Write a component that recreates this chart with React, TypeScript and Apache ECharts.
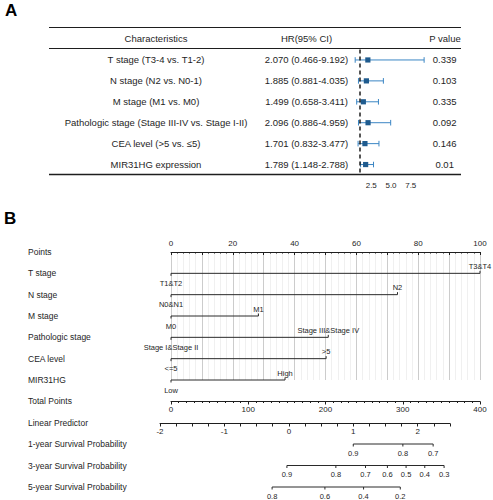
import React, { useEffect, useRef } from "react";
import * as echarts from "echarts";

// ---------- Panel A: forest plot data ----------
const characteristics = [
  "T stage (T3-4 vs. T1-2)",
  "N stage (N2 vs. N0-1)",
  "M stage (M1 vs. M0)",
  "Pathologic stage (Stage III-IV vs. Stage I-II)",
  "CEA level (>5 vs. ≤5)",
  "MIR31HG expression",
];
const hrValues = [2.07, 1.885, 1.499, 2.096, 1.701, 1.789];
const ciLower = [0.466, 0.881, 0.658, 0.886, 0.832, 1.148];
const ciUpper = [9.192, 4.035, 3.411, 4.959, 3.477, 2.788];
const pValues = ["0.339", "0.103", "0.335", "0.092", "0.146", "0.01"];
const forestTicks = [2.5, 5.0, 7.5];

// ---------- Panel B: nomogram data ----------
const rowNames = [
  "Points",
  "T stage",
  "N stage",
  "M stage",
  "Pathologic stage",
  "CEA level",
  "MIR31HG",
  "Total Points",
  "Linear Predictor",
  "1-year Survival Probability",
  "3-year Survival Probability",
  "5-year Survival Probability",
];
const varMaxPoints = [100, 73.3, 28.3, 50.9, 50.2, 36.9];
const varLowLabels = ["T1&T2", "N0&N1", "M0", "Stage I&Stage II", "<=5", "Low"];
const varHighLabels = ["T3&T4", "N2", "M1", "Stage III&Stage IV", ">5", "High"];

// survival scales: tick positions on the linear predictor scale
const oneYearLabels = ["0.9", "0.8", "0.7"];
const oneYearLP = [1.0, 1.77, 2.24];
const threeYearLabels = ["0.9", "0.8", "0.7", "0.6", "0.5", "0.4", "0.3"];
const threeYearLP = [-0.03, 0.73, 1.19, 1.53, 1.82, 2.11, 2.41];
const fiveYearLabels = ["0.8", "0.6", "0.4", "0.2"];
const fiveYearLP = [-0.26, 0.56, 1.16, 1.73];

const survLabels = [oneYearLabels, threeYearLabels, fiveYearLabels];
const survLP = [oneYearLP, threeYearLP, fiveYearLP];

const FONT = "'Liberation Sans', Arial, Helvetica, sans-serif";
const INK = "#1e1e1e";

export default function App() {
  const ref = useRef<HTMLDivElement>(null);

  useEffect(() => {
    if (!ref.current) return;
    const chart = echarts.init(ref.current, undefined, { renderer: "svg" });

    const hrText = hrValues.map(
      (v, i) => `${v.toFixed(3)} (${ciLower[i].toFixed(3)}-${ciUpper[i].toFixed(3)})`
    );

    const hiddenAxisBits = {
      axisLine: { show: false },
      axisTick: { show: false },
      splitLine: { show: false },
    };
    const axisLineOn = { show: true, onZero: false, lineStyle: { color: INK, width: 1 } };

    const option: any = {
      animation: false,
      backgroundColor: "#ffffff",
      textStyle: { fontFamily: FONT },
      grid: [
        { left: 351.5, top: 49.5, width: 79, height: 125.5 },
        { left: 171, top: 252, width: 309, height: 128 },
        { left: 171, top: 399.5, width: 309, height: 2 },
        { left: 160, top: 421.5, width: 289.9, height: 2 },
        { left: 160, top: 444, width: 289.9, height: 43 },
      ],
      xAxis: [
        {
          gridIndex: 0,
          type: "value",
          min: 0,
          max: 10,
          interval: 2.5,
          ...hiddenAxisBits,
          axisLabel: {
            margin: 6,
            fontSize: 8,
            color: INK,
            formatter: (v: number) =>
              forestTicks.indexOf(v) >= 0 ? v.toFixed(1) : "",
          },
        },
        {
          gridIndex: 1,
          type: "value",
          position: "top",
          min: 0,
          max: 100,
          interval: 10,
          axisLine: axisLineOn,
          axisTick: { show: true, inside: true, length: 3, lineStyle: { color: INK } },
          minorTick: { show: true, splitNumber: 5, length: 1.5, lineStyle: { color: INK } },
          splitLine: { show: true, lineStyle: { color: "#cccccc", width: 1 } },
          minorSplitLine: { show: true, lineStyle: { color: "#f0f0f0", width: 1 } },
          axisLabel: {
            margin: 5,
            fontSize: 8,
            color: INK,
            formatter: (v: number) => (v % 20 === 0 ? String(v) : ""),
          },
        },
        {
          gridIndex: 2,
          type: "value",
          position: "bottom",
          min: 0,
          max: 400,
          interval: 100,
          axisLine: axisLineOn,
          axisTick: { show: true, length: 3, lineStyle: { color: INK } },
          minorTick: { show: true, splitNumber: 10, length: 1.5, lineStyle: { color: INK } },
          splitLine: { show: false },
          axisLabel: { margin: 4, fontSize: 8, color: INK },
        },
        {
          gridIndex: 3,
          type: "value",
          position: "bottom",
          min: -2,
          max: 2.5,
          interval: 0.25,
          axisLine: axisLineOn,
          axisTick: { show: true, length: 3, lineStyle: { color: INK } },
          splitLine: { show: false },
          axisLabel: {
            margin: 4,
            fontSize: 8,
            color: INK,
            formatter: (v: number) => (Number.isInteger(v) ? String(v) : ""),
          },
        },
        { gridIndex: 4, type: "value", min: -2, max: 2.5, show: false },
      ],
      yAxis: [
        {
          gridIndex: 0,
          type: "category",
          data: characteristics,
          inverse: true,
          position: "left",
          ...hiddenAxisBits,
          axisLabel: { interval: 0, margin: 195.5, align: "center", fontSize: 9.5, color: INK },
        },
        {
          gridIndex: 0,
          type: "category",
          data: hrText,
          inverse: true,
          position: "left",
          ...hiddenAxisBits,
          axisLabel: { interval: 0, margin: 45, align: "center", fontSize: 9.5, color: INK },
        },
        {
          gridIndex: 0,
          type: "category",
          data: pValues,
          inverse: true,
          position: "right",
          ...hiddenAxisBits,
          axisLabel: { interval: 0, margin: 14.2, align: "center", fontSize: 9.5, color: INK },
        },
        {
          gridIndex: 1,
          type: "value",
          min: 0,
          max: 6,
          interval: 1,
          inverse: true,
          ...hiddenAxisBits,
          axisLabel: {
            margin: 143,
            align: "left",
            fontSize: 8.5,
            color: INK,
            formatter: (v: number) => rowNames[v] ?? "",
          },
        },
        {
          gridIndex: 2,
          type: "category",
          data: [rowNames[7]],
          ...hiddenAxisBits,
          axisLabel: { margin: 143, align: "left", fontSize: 8.5, color: INK },
        },
        {
          gridIndex: 3,
          type: "category",
          data: [rowNames[8]],
          ...hiddenAxisBits,
          axisLabel: { margin: 132, align: "left", fontSize: 8.5, color: INK },
        },
        {
          gridIndex: 4,
          type: "value",
          min: 9,
          max: 11,
          interval: 1,
          inverse: true,
          ...hiddenAxisBits,
          axisLabel: {
            margin: 132,
            align: "left",
            fontSize: 8.5,
            color: INK,
            formatter: (v: number) => rowNames[v] ?? "",
          },
        },
      ],
      series: [
        {
          type: "custom",
          xAxisIndex: 0,
          yAxisIndex: 0,
          clip: false,
          data: hrValues.map((v, i) => [v, i, ciLower[i], ciUpper[i]]),
          encode: { x: [0, 2, 3], y: 1 },
          renderItem: (params: any, api: any) => {
            const row = api.value(1);
            const c = api.coord([api.value(0), row]);
            const lo = api.coord([api.value(2), row]);
            const hi = api.coord([api.value(3), row]);
            const blue = "#3b86c4";
            const h = 2.8;
            return {
              type: "group",
              children: [
                { type: "line", shape: { x1: lo[0], y1: c[1], x2: hi[0], y2: c[1] }, style: { stroke: blue, lineWidth: 1 } },
                { type: "line", shape: { x1: lo[0], y1: c[1] - h, x2: lo[0], y2: c[1] + h }, style: { stroke: blue, lineWidth: 1 } },
                { type: "line", shape: { x1: hi[0], y1: c[1] - h, x2: hi[0], y2: c[1] + h }, style: { stroke: blue, lineWidth: 1 } },
                { type: "rect", shape: { x: c[0] - 2.6, y: c[1] - 2.6, width: 5.2, height: 5.2 }, style: { fill: "#1f5b8e" } },
              ],
            };
          },
          markLine: {
            silent: true,
            symbol: "none",
            label: { show: false },
            lineStyle: { color: INK, width: 1.5, type: [4, 3] },
            data: [{ xAxis: 1 }],
          },
        },
        {
          type: "custom",
          xAxisIndex: 1,
          yAxisIndex: 3,
          clip: false,
          data: varMaxPoints.map((p, i) => [p, i + 1]),
          renderItem: (params: any, api: any) => {
            const i = params.dataIndex;
            const row = api.value(1);
            const a = api.coord([0, row]);
            const b = api.coord([api.value(0), row]);
            const st = { stroke: "#2a2a2a", lineWidth: 1 };
            return {
              type: "group",
              children: [
                { type: "line", shape: { x1: a[0], y1: a[1], x2: b[0], y2: b[1] }, style: st },
                { type: "line", shape: { x1: a[0], y1: a[1], x2: a[0], y2: a[1] + 2.5 }, style: st },
                { type: "line", shape: { x1: b[0], y1: b[1], x2: b[0], y2: b[1] - 2.5 }, style: st },
                {
                  type: "text",
                  x: a[0],
                  y: a[1] + 10,
                  style: { text: varLowLabels[i], fontSize: 7.5, fontFamily: FONT, fill: INK, align: "center", verticalAlign: "middle" },
                },
                {
                  type: "text",
                  x: b[0],
                  y: b[1] - 7,
                  style: { text: varHighLabels[i], fontSize: 7.5, fontFamily: FONT, fill: INK, align: "center", verticalAlign: "middle" },
                },
              ],
            };
          },
        },
        {
          type: "custom",
          xAxisIndex: 4,
          yAxisIndex: 6,
          clip: false,
          data: survLP.map((pos, i) => [pos[0], 9 + i]),
          renderItem: (params: any, api: any) => {
            const i = params.dataIndex;
            const row = api.value(1);
            const pos = survLP[i];
            const labs = survLabels[i];
            const pts = pos.map((p) => api.coord([p, row]));
            const st = { stroke: "#2a2a2a", lineWidth: 1 };
            const children: any[] = [
              {
                type: "line",
                shape: { x1: pts[0][0], y1: pts[0][1], x2: pts[pts.length - 1][0], y2: pts[0][1] },
                style: st,
              },
            ];
            pts.forEach((pt, k) => {
              children.push({ type: "line", shape: { x1: pt[0], y1: pt[1], x2: pt[0], y2: pt[1] + 2.5 }, style: st });
              children.push({
                type: "text",
                x: pt[0],
                y: pt[1] + 9,
                style: { text: labs[k], fontSize: 7.5, fontFamily: FONT, fill: INK, align: "center", verticalAlign: "middle" },
              });
            });
            return { type: "group", children };
          },
        },
      ],
      graphic: [
        { type: "text", left: 5, top: 2, style: { text: "A", fontSize: 17, fontWeight: "bold", fontFamily: FONT, fill: "#000" } },
        { type: "text", left: 4, top: 210, style: { text: "B", fontSize: 17, fontWeight: "bold", fontFamily: FONT, fill: "#000" } },
        { type: "line", shape: { x1: 49, y1: 27.5, x2: 461, y2: 27.5 }, style: { stroke: INK, lineWidth: 1.2 } },
        { type: "line", shape: { x1: 49, y1: 48.5, x2: 461, y2: 48.5 }, style: { stroke: INK, lineWidth: 1 } },
        { type: "line", shape: { x1: 49, y1: 174.5, x2: 461, y2: 174.5 }, style: { stroke: INK, lineWidth: 1.5 } },
        {
          type: "text",
          x: 156,
          y: 38,
          style: { text: "Characteristics", fontSize: 9.5, fontFamily: FONT, fill: INK, align: "center", verticalAlign: "middle" },
        },
        {
          type: "text",
          x: 306.5,
          y: 38,
          style: { text: "HR(95% CI)", fontSize: 9.5, fontFamily: FONT, fill: INK, align: "center", verticalAlign: "middle" },
        },
        {
          type: "text",
          x: 445,
          y: 38,
          style: { text: "P value", fontSize: 9.5, fontFamily: FONT, fill: INK, align: "center", verticalAlign: "middle" },
        },
      ],
    };

    chart.setOption(option);
    return () => chart.dispose();
  }, []);

  return (
    <div
      ref={ref}
      style={{ position: "fixed", left: 0, top: 0, width: 493, height: 500 }}
    />
  );
}
